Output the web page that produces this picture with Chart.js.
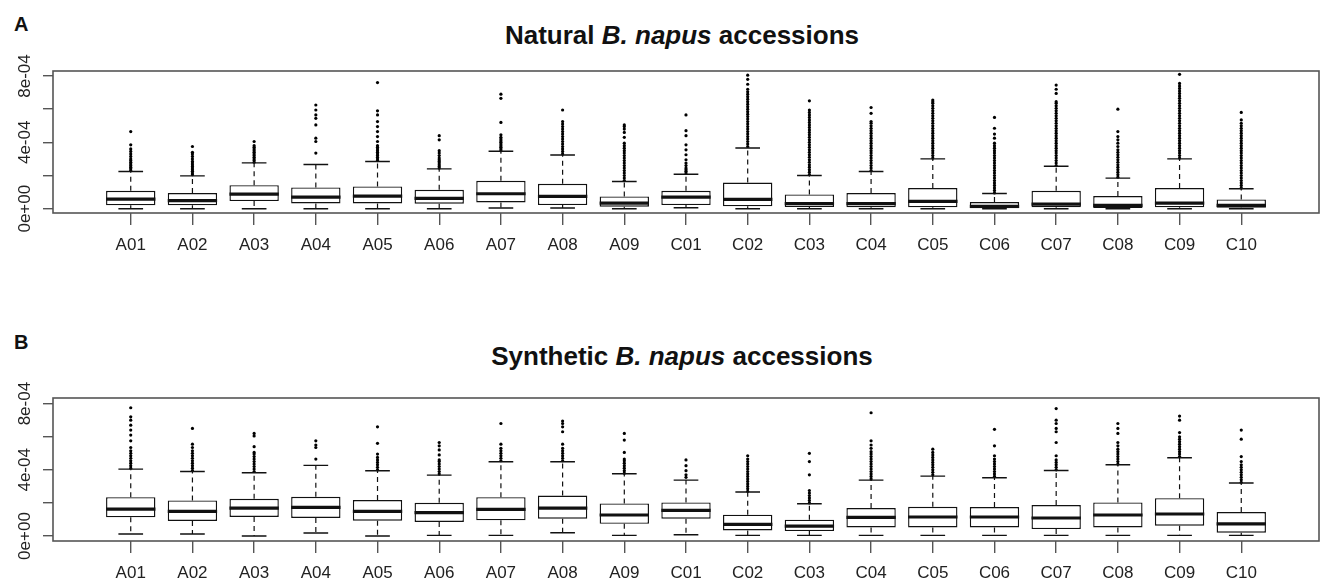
<!DOCTYPE html>
<html>
<head>
<meta charset="utf-8">
<title>B. napus accessions boxplots</title>
<script src="https://cdn.jsdelivr.net/npm/chart.js@4/dist/chart.umd.min.js"></script>
<style>
  body { margin: 0; background: #fff; width: 1324px; height: 585px; overflow: hidden; position: relative;
         font-family: 'Liberation Sans', Arial, Helvetica, sans-serif; color: #111; }
  canvas { position: absolute; left: 0; }
  #chartA { top: 0; }
  #chartB { top: 292px; }
  .panel { position: absolute; left: 14px; font-weight: bold; font-size: 20px; line-height: 20px; }
  .title { position: absolute; left: 53px; width: 1258px; text-align: center; font-weight: bold;
           font-size: 26px; line-height: 26px; white-space: nowrap; }
</style>
</head>
<body>
<div class="panel" style="top:14px">A</div>
<div class="title" style="top:22px">Natural <i>B. napus</i> accessions</div>
<canvas id="chartA" width="1324" height="292"></canvas>

<div class="panel" style="top:332px">B</div>
<div class="title" style="top:343px">Synthetic <i>B. napus</i> accessions</div>
<canvas id="chartB" width="1324" height="293"></canvas>

<script>
// all values in units of 1e-4
const categories = ['A01', 'A02', 'A03', 'A04', 'A05', 'A06', 'A07', 'A08', 'A09',
    'C01', 'C02', 'C03', 'C04', 'C05', 'C06', 'C07', 'C08', 'C09', 'C10'];
const yTickValues = [0, 2, 4, 6, 8];
const yLabelValues = [0, 4, 8];
const yLabelTexts = ['0e+00', '4e-04', '8e-04'];

// Natural accessions (panel A)
const naturalLow = [0, 0, 0, 0, 0, 0, 0.04, 0.04, 0, 0.06, 0, 0, 0, 0, 0, 0, 0, 0, 0];
const naturalQ1 = [0.2, 0.2, 0.46, 0.32, 0.32, 0.3, 0.38, 0.22, 0.12, 0.22, 0.14, 0.1, 0.08, 0.08, 0.02, 0.08, 0.04, 0.08, 0.06];
const naturalMedian = [0.58, 0.48, 0.88, 0.7, 0.76, 0.62, 0.9, 0.74, 0.34, 0.7, 0.56, 0.3, 0.3, 0.44, 0.14, 0.28, 0.2, 0.34, 0.2];
const naturalQ3 = [1.08, 0.94, 1.42, 1.28, 1.34, 1.14, 1.68, 1.5, 0.74, 1.08, 1.58, 0.86, 0.94, 1.24, 0.4, 1.08, 0.76, 1.24, 0.56];
const naturalHigh = [2.24, 1.98, 2.76, 2.66, 2.84, 2.4, 3.46, 3.24, 1.64, 2.08, 3.66, 2.0, 2.24, 3.0, 0.92, 2.56, 1.84, 3.0, 1.2];
const naturalOutliers = [
    [2.3, 2.4, 2.5, 2.6, 2.7, 2.8, 2.9, 3.0, 3.15, 3.3, 3.45, 3.6, 3.85, 4.65],
    [2.05, 2.15, 2.25, 2.35, 2.45, 2.55, 2.65, 2.75, 2.85, 3.0, 3.15, 3.3, 3.4, 3.75],
    [2.8, 2.9, 3.0, 3.1, 3.2, 3.3, 3.4, 3.5, 3.6, 3.7, 3.8, 4.05],
    [3.35, 4.05, 4.25, 5.05, 5.45, 5.65, 5.95, 6.25],
    [2.9, 3.0, 3.1, 3.2, 3.3, 3.4, 3.5, 3.6, 3.7, 3.8, 4.05, 4.35, 4.65, 4.95, 5.25, 5.65, 5.9, 7.6],
    [2.45, 2.55, 2.65, 2.75, 2.85, 2.95, 3.05, 3.2, 3.35, 3.5, 4.15, 4.4],
    [3.5, 3.6, 3.7, 3.8, 3.9, 4.0, 4.1, 4.2, 4.3, 4.45, 5.2, 6.65, 6.9],
    [3.3, 3.45, 3.6, 3.75, 3.9, 4.05, 4.2, 4.35, 4.5, 4.65, 4.8, 4.95, 5.1, 5.25, 5.95],
    [1.7, 1.85, 2.0, 2.15, 2.3, 2.45, 2.6, 2.75, 2.9, 3.05, 3.2, 3.35, 3.5, 3.65, 3.8, 3.95, 4.3, 4.6, 4.8, 4.95, 5.05],
    [2.15, 2.25, 2.35, 2.45, 2.6, 2.75, 2.95, 3.25, 3.55, 3.85, 4.4, 4.7, 5.65],
    [3.75, 3.9, 4.05, 4.2, 4.35, 4.5, 4.65, 4.8, 4.95, 5.1, 5.25, 5.4, 5.55, 5.7, 5.85, 6.0, 6.15, 6.3, 6.45, 6.6, 6.75, 6.9, 7.05, 7.2, 7.5, 7.8, 8.05],
    [2.05, 2.2, 2.35, 2.5, 2.65, 2.8, 2.95, 3.1, 3.25, 3.4, 3.55, 3.7, 3.85, 4.0, 4.15, 4.3, 4.45, 4.6, 4.75, 4.9, 5.05, 5.2, 5.35, 5.5, 5.65, 5.8, 5.95, 6.5],
    [2.3, 2.45, 2.6, 2.75, 2.9, 3.05, 3.2, 3.35, 3.5, 3.65, 3.8, 3.95, 4.1, 4.25, 4.4, 4.55, 4.7, 4.85, 5.0, 5.15, 5.25, 5.75, 6.1],
    [3.05, 3.2, 3.35, 3.5, 3.65, 3.8, 3.95, 4.1, 4.25, 4.4, 4.55, 4.7, 4.85, 5.0, 5.15, 5.3, 5.45, 5.6, 5.75, 5.9, 6.05, 6.2, 6.35, 6.45, 6.55],
    [0.95, 1.1, 1.25, 1.4, 1.55, 1.7, 1.85, 2.0, 2.15, 2.3, 2.45, 2.6, 2.75, 2.9, 3.05, 3.2, 3.35, 3.5, 3.65, 3.8, 3.95, 4.25, 4.5, 4.85, 5.5],
    [2.6, 2.75, 2.9, 3.05, 3.2, 3.35, 3.5, 3.65, 3.8, 3.95, 4.1, 4.25, 4.4, 4.55, 4.7, 4.85, 5.0, 5.15, 5.3, 5.45, 5.6, 5.75, 5.9, 6.05, 6.2, 6.35, 6.45, 6.95, 7.2, 7.45],
    [1.9, 2.05, 2.2, 2.35, 2.5, 2.65, 2.8, 2.95, 3.1, 3.25, 3.4, 3.55, 3.75, 3.95, 4.15, 4.35, 4.65, 6.0],
    [3.05, 3.2, 3.35, 3.5, 3.65, 3.8, 3.95, 4.1, 4.25, 4.4, 4.55, 4.7, 4.85, 5.0, 5.15, 5.3, 5.45, 5.6, 5.75, 5.9, 6.05, 6.2, 6.35, 6.5, 6.65, 6.8, 6.95, 7.1, 7.25, 7.4, 7.55, 8.1],
    [1.25, 1.4, 1.55, 1.7, 1.85, 2.0, 2.15, 2.3, 2.45, 2.6, 2.75, 2.9, 3.05, 3.2, 3.35, 3.5, 3.65, 3.8, 3.95, 4.1, 4.25, 4.4, 4.55, 4.7, 4.85, 5.0, 5.15, 5.35, 5.8]
];

// Synthetic accessions (panel B)
const syntheticLow = [0.12, 0.12, 0, 0.18, 0, 0.04, 0.04, 0.2, 0.04, 0.08, 0.04, 0.04, 0.04, 0.04, 0.04, 0.04, 0.04, 0.04, 0.04];
const syntheticQ1 = [1.13, 0.91, 1.15, 1.09, 0.93, 0.85, 0.95, 1.05, 0.74, 1.05, 0.34, 0.3, 0.52, 0.52, 0.52, 0.42, 0.52, 0.62, 0.2];
const syntheticMedian = [1.63, 1.49, 1.69, 1.73, 1.49, 1.41, 1.61, 1.69, 1.27, 1.55, 0.7, 0.6, 1.13, 1.15, 1.15, 1.09, 1.27, 1.33, 0.74];
const syntheticQ3 = [2.35, 2.15, 2.25, 2.37, 2.17, 2.01, 2.35, 2.45, 1.97, 2.03, 1.29, 0.99, 1.69, 1.77, 1.75, 1.87, 2.03, 2.29, 1.45];
const syntheticHigh = [4.04, 3.9, 3.82, 4.27, 3.94, 3.68, 4.49, 4.49, 3.76, 3.38, 2.66, 1.95, 3.38, 3.62, 3.52, 3.96, 4.31, 4.73, 3.2];
const syntheticOutliers = [
    [4.1, 4.25, 4.4, 4.55, 4.7, 4.85, 5.0, 5.15, 5.35, 5.75, 6.1, 6.4, 6.7, 7.0, 7.2, 7.75],
    [3.95, 4.1, 4.25, 4.4, 4.55, 4.7, 4.85, 5.0, 5.15, 5.35, 5.55, 6.5],
    [3.9, 4.05, 4.2, 4.35, 4.5, 4.65, 4.8, 4.95, 5.05, 5.4, 6.05, 6.2],
    [4.65, 5.35, 5.5, 5.75],
    [4.0, 4.15, 4.3, 4.45, 4.6, 4.75, 4.95, 5.6, 6.6],
    [3.75, 3.9, 4.05, 4.2, 4.35, 4.5, 4.6, 4.9, 5.2, 5.45, 5.65],
    [4.55, 4.7, 4.85, 5.0, 5.15, 5.3, 5.55, 6.8],
    [4.55, 4.7, 4.85, 5.0, 5.15, 5.3, 5.55, 6.3, 6.6, 6.8, 6.95],
    [3.8, 3.95, 4.1, 4.25, 4.4, 4.55, 4.65, 5.05, 5.8, 6.2],
    [3.55, 3.7, 3.95, 4.25, 4.6],
    [2.7, 2.85, 3.0, 3.15, 3.3, 3.45, 3.6, 3.75, 3.9, 4.05, 4.2, 4.35, 4.5, 4.65, 4.85],
    [2.0, 2.15, 2.3, 2.45, 2.6, 2.75, 3.7, 4.5, 5.0],
    [3.45, 3.6, 3.75, 3.9, 4.05, 4.2, 4.35, 4.5, 4.65, 4.8, 4.95, 5.1, 5.3, 5.5, 5.75, 7.45],
    [3.7, 3.85, 4.0, 4.15, 4.3, 4.45, 4.6, 4.75, 4.9, 5.05, 5.25],
    [3.6, 3.75, 3.9, 4.05, 4.2, 4.35, 4.5, 4.65, 4.85, 5.45, 6.45],
    [4.0, 4.15, 4.3, 4.45, 4.6, 4.85, 5.65, 6.3, 6.5, 6.8, 7.0, 7.7],
    [4.35, 4.5, 4.65, 4.8, 4.95, 5.1, 5.25, 5.45, 5.65, 6.2, 6.5, 6.8],
    [4.8, 4.95, 5.1, 5.25, 5.4, 5.55, 5.7, 5.85, 6.0, 6.25, 7.0, 7.25],
    [3.25, 3.4, 3.55, 3.7, 3.85, 4.0, 4.15, 4.3, 4.5, 4.8, 5.85, 6.4]
];

const FONT = "'Liberation Sans', Arial, Helvetica, sans-serif";
const INK = '#111';
const AXIS = '#555';

// whiskers, staples and medians, placed from the box bars the library laid out
const boxplotLines = {
    id: 'boxplotLines',
    afterDatasetsDraw(chart, args, opts) {
        const { ctx } = chart;
        const y = chart.scales.y;
        const boxes = chart.getDatasetMeta(0).data;
        ctx.save();
        ctx.strokeStyle = INK;
        boxes.forEach((bar, i) => {
            const cx = bar.x;
            const half = bar.width / 2;
            const cap = bar.width / 4;
            const yLo = y.getPixelForValue(opts.low[i]);
            const yQ1 = y.getPixelForValue(opts.q1[i]);
            const yQ3 = y.getPixelForValue(opts.q3[i]);
            const yHi = y.getPixelForValue(opts.high[i]);
            const yMed = y.getPixelForValue(opts.median[i]);

            // dashed whiskers
            ctx.lineWidth = 1.2;
            ctx.setLineDash([5, 4]);
            ctx.beginPath();
            ctx.moveTo(cx, yQ3); ctx.lineTo(cx, yHi);
            ctx.moveTo(cx, yQ1); ctx.lineTo(cx, yLo);
            ctx.stroke();

            // staples
            ctx.setLineDash([]);
            ctx.lineWidth = 1.4;
            ctx.beginPath();
            ctx.moveTo(cx - cap, yHi); ctx.lineTo(cx + cap, yHi);
            ctx.moveTo(cx - cap, yLo); ctx.lineTo(cx + cap, yLo);
            ctx.stroke();

            // median
            ctx.lineWidth = 3.2;
            ctx.beginPath();
            ctx.moveTo(cx - half, yMed); ctx.lineTo(cx + half, yMed);
            ctx.stroke();
        });
        ctx.restore();
    }
};

// plot frame and vertical y labels (R style)
const frameAndLabels = {
    id: 'frameAndLabels',
    afterDraw(chart) {
        const { ctx, chartArea } = chart;
        const y = chart.scales.y;
        ctx.save();
        ctx.strokeStyle = AXIS;
        ctx.lineWidth = 1.6;
        ctx.strokeRect(chartArea.left, chartArea.top, chartArea.right - chartArea.left, chartArea.bottom - chartArea.top);

        ctx.fillStyle = '#222';
        ctx.font = '17px ' + FONT;
        ctx.textAlign = 'center';
        ctx.textBaseline = 'middle';
        yLabelValues.forEach((v, i) => {
            ctx.save();
            ctx.translate(25, y.getPixelForValue(v));
            ctx.rotate(-Math.PI / 2);
            ctx.fillText(yLabelTexts[i], 0, 0);
            ctx.restore();
        });
        ctx.restore();
    }
};

function makeBoxplot(canvasId, low, q1, median, q3, high, outliers, yMin, yMax, padTop, xAxisHeight) {
    const boxData = categories.map((c, i) => ({ x: i + 1, y: [q1[i], q3[i]] }));
    const outlierData = [];
    outliers.forEach((list, i) => {
        list.forEach(v => outlierData.push({ x: i + 1, y: v }));
    });

    return new Chart(document.getElementById(canvasId), {
        type: 'bar',
        data: {
            datasets: [
                {
                    type: 'bar',
                    data: boxData,
                    backgroundColor: '#fff',
                    borderColor: INK,
                    borderWidth: 1.4,
                    borderSkipped: false,
                    categoryPercentage: 0.8,
                    barPercentage: 1.0
                },
                {
                    type: 'scatter',
                    data: outlierData,
                    pointRadius: 1.6,
                    pointBackgroundColor: '#000',
                    pointBorderWidth: 0,
                    showLine: false
                }
            ]
        },
        options: {
            responsive: false,
            animation: false,
            devicePixelRatio: 1,
            layout: { padding: { top: padTop, right: 5, bottom: 0, left: 0 } },
            plugins: {
                legend: { display: false },
                tooltip: { enabled: false },
                boxplotLines: { low, q1, median, q3, high }
            },
            scales: {
                x: {
                    type: 'linear',
                    min: -0.26,
                    max: 20.26,
                    offset: false,
                    afterBuildTicks: s => { s.ticks = categories.map((c, i) => ({ value: i + 1 })); },
                    afterFit: s => { s.height = xAxisHeight; },
                    ticks: {
                        callback: v => categories[v - 1],
                        font: { size: 17, family: FONT },
                        color: '#222',
                        padding: 10,
                        autoSkip: false,
                        maxRotation: 0
                    },
                    grid: { drawOnChartArea: false, drawTicks: true, tickLength: 12, color: AXIS, lineWidth: 1.4, offset: false },
                    border: { display: false }
                },
                y: {
                    type: 'linear',
                    min: yMin,
                    max: yMax,
                    afterBuildTicks: s => { s.ticks = yTickValues.map(v => ({ value: v })); },
                    afterFit: s => { s.width = 53; },
                    ticks: { display: false },
                    grid: { drawOnChartArea: false, drawTicks: true, tickLength: 10, color: AXIS, lineWidth: 1.4 },
                    border: { display: false }
                }
            }
        },
        plugins: [boxplotLines, frameAndLabels]
    });
}

makeBoxplot('chartA', naturalLow, naturalQ1, naturalMedian, naturalQ3, naturalHigh, naturalOutliers, -0.26, 8.3, 71, 79);
makeBoxplot('chartB', syntheticLow, syntheticQ1, syntheticMedian, syntheticQ3, syntheticHigh, syntheticOutliers, -0.3, 8.34, 106, 44);
</script>
</body>
</html>
